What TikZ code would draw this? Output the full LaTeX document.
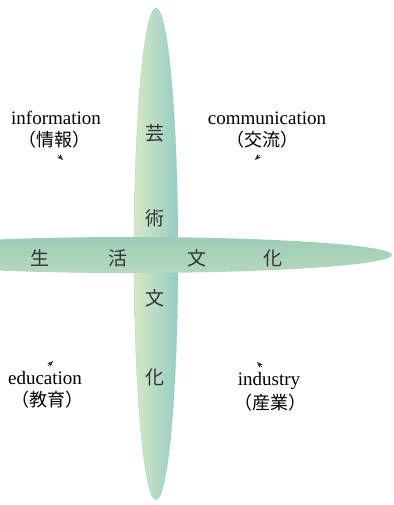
\documentclass[tikz,border=0pt]{standalone}
\usepackage{fontspec}
\setmainfont{Liberation Serif}
\newfontfamily\cjk{Noto Sans CJK JP}
\usetikzlibrary{arrows.meta}

\definecolor{spinEdge}{RGB}{212,232,196}
\definecolor{spinMid}{RGB}{170,214,190}
\definecolor{spinRim}{RGB}{150,205,196}
\definecolor{barTop}{RGB}{158,205,182}
\definecolor{barMid}{RGB}{214,236,208}
\definecolor{barLow}{RGB}{180,216,190}

\tikzset{
  word/.style={font=\fontsize{19}{22}\selectfont, inner sep=0pt},
  kanji/.style={font=\cjk\fontsize{18}{20}\selectfont, inner sep=0pt},
  stem/.style={font=\cjk\fontsize{19}{20}\selectfont, inner sep=0pt, text=black!80},
  tick/.style={-{Stealth[length=6pt,width=4.5pt]}, line width=0.4pt, black!85},
}

\begin{document}
\begin{tikzpicture}[x=1pt, y=-1pt]
      \useasboundingbox (0,0) rectangle (393,505);
      \clip (0,0) rectangle (393,505);

      % Spindles
      \shade[left color=spinEdge, middle color=spinMid, right color=spinRim]
        (156,254) ellipse (22 and 246);
      \draw[spinRim, line width=0.5pt, opacity=0.5] (156,254) ellipse (22 and 246);
      \shade[top color=barTop, middle color=barMid, bottom color=barLow]
        (130,255) ellipse (262 and 18);

      % Vertical axis
      \node[stem] (v1) at (155,133) {芸};
      \node[stem] (v2) at (155,218) {術};
      \node[stem] (v3) at (155,298) {文};
      \node[stem] (v4) at (155,377) {化};

      % Horizontal axis
      \node[stem] (h1) at (40,258) {生};
      \node[stem] (h2) at (118,258) {活};
      \node[stem] (h3) at (197,258) {文};
      \node[stem] (h4) at (273,258) {化};

      % Quadrant labels
      \node[word]  (info)    at (56,118)  {information};
      \node[kanji] (infoJ)   at (54,140)  {（情報）};
      \node[word]  (comm)    at (267,118) {communication};
      \node[kanji] (commJ)   at (262,140) {（交流）};
      \node[word]  (edu)     at (45,378)  {education};
      \node[kanji] (eduJ)    at (47,400)  {（教育）};
      \node[word]  (ind)     at (269,381) {industry};
      \node[kanji] (indJ)    at (270,403) {（産業）};

      % Small pointers
      \coordinate (a1) at (58,155);  \coordinate (a2) at (63,160);
      \coordinate (b1) at (260,155); \coordinate (b2) at (255,160);
      \coordinate (c1) at (48,366);  \coordinate (c2) at (53,361);
      \coordinate (d1) at (262,367); \coordinate (d2) at (257,362);

      \draw[tick] (a1) -- (a2);
      \draw[tick] (b1) -- (b2);
      \draw[tick] (c1) -- (c2);
      \draw[tick] (d1) -- (d2);
\end{tikzpicture}
\end{document}
